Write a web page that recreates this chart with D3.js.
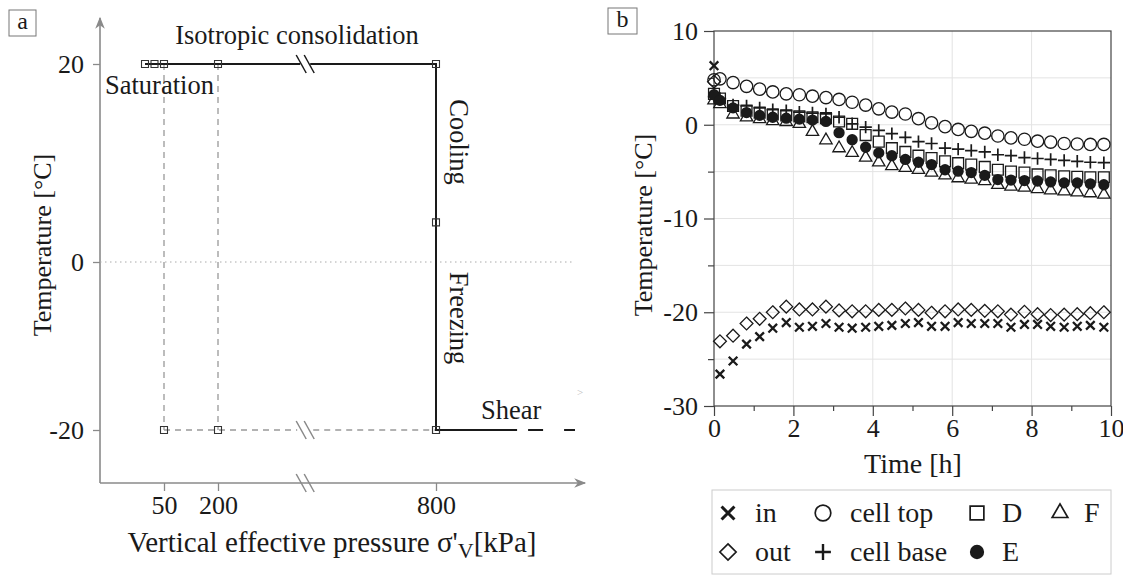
<!DOCTYPE html>
<html>
<head>
<meta charset="utf-8">
<script src="https://cdn.jsdelivr.net/npm/d3@7"></script>
<style>
  html, body { margin: 0; padding: 0; background: #fff; }
  svg { display: block; font-family: "Liberation Serif", "Times New Roman", serif; }
</style>
</head>
<body>
<svg id="chart" width="1123" height="575"></svg>
<script>
// ---- panel a: stress path (schematic) ----
const pressureTicks = [50, 200, 800]
const tempTicksA = [20, 0, -20]
const stepP = [20, 35, 50, 200, 800, 800, 800]   // marked steps on the path
const stepT = [20, 20, 20, 20, 20, 4, -20]
const refP = [50, 200, 800]                       // reference points at -20 C
const refT = [-20, -20, -20]
const breakP = 440                                // axis break between 200 and 800
const shearEndP = 975
const shearDashP = 1100

// ---- panel b: temperature vs time ----
const timeH = [0, 0.15, 0.48, 0.82, 1.15, 1.48, 1.82, 2.15, 2.48, 2.82, 3.15, 3.48, 3.82, 4.15, 4.48, 4.82,
  5.15, 5.48, 5.82, 6.15, 6.48, 6.82, 7.15, 7.48, 7.82, 8.15, 8.48, 8.82, 9.15, 9.48, 9.82]
const tIn = [6.3, -26.6, -25.2, -23.4, -22.6, -21.7, -21.1, -21.6, -21.5, -21.2, -21.6, -21.7, -21.6, -21.5, -21.4, -21.2,
  -21.1, -21.5, -21.5, -21.1, -21.2, -21.2, -21.2, -21.6, -21.3, -21.3, -21.5, -21.6, -21.5, -21.4, -21.6]
const tOut = [4.6, -23.1, -22.5, -21.2, -20.7, -20.0, -19.4, -19.7, -19.7, -19.4, -19.8, -19.9, -19.9, -19.75, -19.75, -19.6,
  -19.75, -20.05, -19.9, -19.7, -19.75, -19.85, -19.9, -20.25, -19.95, -20.2, -20.3, -20.25, -20.2, -20.1, -20.0]
const tCellTop = [4.8, 4.9, 4.5, 4.1, 3.8, 3.5, 3.3, 3.2, 3.05, 2.9, 2.7, 2.4, 2.1, 1.7, 1.35, 1.15,
  0.65, 0.2, -0.2, -0.5, -0.7, -0.9, -1.2, -1.4, -1.55, -1.75, -1.85, -2.0, -2.05, -2.1, -2.1]
const tCellBase = [3.0, 2.8, 2.1, 2.0, 1.8, 1.6, 1.5, 1.35, 1.25, 1.15, 0.8, 0.1, -0.25, -0.6, -0.95, -1.35,
  -1.8, -2.0, -2.5, -2.6, -2.75, -2.9, -3.2, -3.3, -3.5, -3.6, -3.7, -3.8, -3.9, -4.0, -4.05]
const tD = [3.3, 2.8, 2.0, 1.5, 1.3, 1.1, 1.0, 0.9, 0.8, 0.7, 0.35, 0.1, -1.1, -1.8, -2.5, -2.9,
  -3.3, -3.55, -3.9, -4.1, -4.25, -4.5, -4.8, -5.0, -5.1, -5.3, -5.4, -5.5, -5.55, -5.6, -5.6]
const tE = [3.2, 2.6, 1.8, 1.3, 1.0, 0.8, 0.7, 0.6, 0.5, 0.35, -0.85, -1.6, -2.4, -3.0, -3.3, -3.7,
  -4.0, -4.25, -4.8, -4.95, -5.1, -5.4, -5.85, -5.9, -5.95, -6.0, -6.1, -6.2, -6.2, -6.3, -6.4]
const tF = [2.6, 2.2, 1.1, 0.8, 0.6, 0.4, 0.3, 0.1, -0.75, -1.65, -2.5, -3.0, -3.5, -4.0, -4.4, -4.6,
  -4.8, -5.1, -5.4, -5.7, -5.85, -6.0, -6.4, -6.6, -6.7, -6.85, -7.0, -7.1, -7.2, -7.3, -7.45]
const timeTicks = [0, 2, 4, 6, 8, 10]
const timeMinor = [1, 3, 5, 7, 9]
const tempTicksB = [-30, -20, -10, 0, 10]
const tempMinorB = [-25, -15, -5, 5]

const series = [
  {name: 'out', values: tOut},
  {name: 'in', values: tIn},
  {name: 'cell top', values: tCellTop},
  {name: 'cell base', values: tCellBase},
  {name: 'D', values: tD},
  {name: 'F', values: tF},
  {name: 'E', values: tE},
]
// legend order, row by row
const legendRows = [['in', 'cell top', 'D', 'F'], ['out', 'cell base', 'E']]

const ink = '#1a1a1a'
const markerStyle = {
  'in':        {type: d3.symbolTimes || d3.symbolCross, size: 50, fill: 'none', sw: 2.3},
  'out':       {type: d3.symbolDiamond2 || d3.symbolDiamond, size: 105, fill: 'none', sw: 1.3},
  'cell top':  {type: d3.symbolCircle, size: 120, fill: 'none', sw: 1.3},
  'cell base': {type: d3.symbolPlus || d3.symbolCross, size: 52, fill: 'none', sw: 1.7},
  'D':         {type: d3.symbolSquare2 || d3.symbolSquare, size: 150, fill: 'none', sw: 1.3},
  'E':         {type: d3.symbolCircle, size: 100, fill: ink, sw: 0},
  'F':         {type: d3.symbolTriangle2 || d3.symbolTriangle, size: 110, fill: 'none', sw: 1.3},
}
const plain = d => String(d)   // hyphen minus, as in the original

const svg = d3.select('#chart')
const axisGray = '#8a8a8a'

// ================= panel a =================
const xa = d3.scaleLinear().domain([20, 50, 200, 800, 1100]).range([145, 164, 218, 436, 575])
const ya = d3.scaleLinear().domain([-20, 0, 20]).range([430, 262, 64])
const originX = 100, originY = 483

const pa = svg.append('g')

svg.append('defs').append('marker')
  .attr('id', 'arrow').attr('viewBox', '0 0 10 10').attr('refX', 9).attr('refY', 5)
  .attr('markerWidth', 14).attr('markerHeight', 12).attr('markerUnits', 'userSpaceOnUse')
  .attr('orient', 'auto')
  .append('path').attr('d', 'M0,1 L10,5 L0,9 L3,5 Z').attr('fill', axisGray)

// axis lines with arrows
pa.append('line').attr('x1', originX).attr('y1', originY).attr('x2', originX).attr('y2', 18)
  .attr('stroke', axisGray).attr('stroke-width', 1.6).attr('marker-end', 'url(#arrow)')
pa.append('line').attr('x1', originX).attr('y1', originY).attr('x2', 585).attr('y2', originY)
  .attr('stroke', axisGray).attr('stroke-width', 1.6).attr('marker-end', 'url(#arrow)')

const yAxisA = pa.append('g').attr('transform', `translate(${originX},0)`)
  .call(d3.axisLeft(ya).tickValues(tempTicksA).tickSize(7).tickPadding(9).tickFormat(plain))
yAxisA.select('.domain').remove()
yAxisA.selectAll('line').attr('stroke', axisGray).attr('stroke-width', 1.3)
yAxisA.selectAll('text').attr('font-size', 26).attr('fill', ink).attr('font-family', 'Liberation Serif')

const xAxisA = pa.append('g').attr('transform', `translate(0,${originY})`)
  .call(d3.axisBottom(xa).tickValues(pressureTicks).tickSize(8).tickPadding(5).tickFormat(plain))
xAxisA.select('.domain').remove()
xAxisA.selectAll('line').attr('stroke', axisGray).attr('stroke-width', 1.3)
xAxisA.selectAll('text').attr('font-size', 26).attr('fill', ink).attr('font-family', 'Liberation Serif')

// zero reference (dotted)
pa.append('line').attr('x1', originX).attr('x2', 575).attr('y1', ya(0)).attr('y2', ya(0))
  .attr('stroke', '#aaa').attr('stroke-width', 1).attr('stroke-dasharray', '1.5,3.5')

// grey dashed reference lines
const refDash = '6,5'
pressureTicks.slice(0, 2).forEach(p => {
  pa.append('line').attr('x1', xa(p)).attr('x2', xa(p)).attr('y1', ya(20)).attr('y2', ya(-20))
    .attr('stroke', '#999').attr('stroke-width', 1.3).attr('stroke-dasharray', refDash)
})
const gap = 8
pa.append('line').attr('x1', xa(50)).attr('x2', xa(breakP) - gap).attr('y1', ya(-20)).attr('y2', ya(-20))
  .attr('stroke', '#999').attr('stroke-width', 1.3).attr('stroke-dasharray', refDash)
pa.append('line').attr('x1', xa(breakP) + gap).attr('x2', xa(800)).attr('y1', ya(-20)).attr('y2', ya(-20))
  .attr('stroke', '#999').attr('stroke-width', 1.3).attr('stroke-dasharray', refDash)

// main stress path
const line = d3.line().x(d => xa(d[0])).y(d => ya(d[1]))
pa.append('path').datum([[stepP[0], 20], [breakP, 20]]).attr('d', line)
  .attr('fill', 'none').attr('stroke', ink).attr('stroke-width', 2)
pa.append('path').datum([[breakP, 20], [800, 20], [800, -20], [shearEndP, -20]]).attr('d', line)
  .attr('fill', 'none').attr('stroke', ink).attr('stroke-width', 2)
pa.append('path').datum([[shearEndP, -20], [shearDashP, -20]]).attr('d', line)
  .attr('fill', 'none').attr('stroke', ink).attr('stroke-width', 2).attr('stroke-dasharray', '0,11,15,10')

// break marks "//"
function breakMark(cx, cy, color) {
  [-4, 4].forEach(off => {
    pa.append('line').attr('x1', cx + off - 5).attr('y1', cy - 9).attr('x2', cx + off + 5).attr('y2', cy + 9)
      .attr('stroke', color).attr('stroke-width', 1.5)
  })
}
// white-out gap on the top line
pa.append('rect').attr('x', xa(breakP) - 5).attr('y', ya(20) - 3).attr('width', 10).attr('height', 6).attr('fill', '#fff')
breakMark(xa(breakP), ya(20), ink)
breakMark(xa(breakP), ya(-20), '#888')
breakMark(xa(breakP), originY, axisGray)

// step markers
const sqA = d3.symbol().type(d3.symbolSquare2 || d3.symbolSquare).size(62)
pa.selectAll('.step').data(stepP.map((p, i) => [p, stepT[i]]).concat(refP.map((p, i) => [p, refT[i]])))
  .join('path').attr('class', 'step')
  .attr('transform', d => `translate(${xa(d[0])},${ya(d[1])})`)
  .attr('d', sqA).attr('fill', 'none').attr('stroke', '#333').attr('stroke-width', 1.1)

// annotations
const ann = pa.append('g').attr('fill', ink).attr('font-size', 26.5)
ann.append('text').attr('x', 297).attr('y', 44).attr('text-anchor', 'middle').text('Isotropic consolidation')
ann.append('text').attr('x', 105).attr('y', 94).text('Saturation')
ann.append('text').attr('transform', 'translate(450,142) rotate(90)').attr('text-anchor', 'middle').text('Cooling')
ann.append('text').attr('transform', 'translate(450,318) rotate(90)').attr('text-anchor', 'middle').text('Freezing')
ann.append('text').attr('x', 481).attr('y', 419).text('Shear')
pa.append('text').attr('x', 577).attr('y', 396).attr('font-size', 11).attr('fill', '#bbb').text('>')

// axis titles
pa.append('text').attr('transform', 'translate(51,245) rotate(-90)').attr('text-anchor', 'middle')
  .attr('font-size', 26).attr('fill', ink).text('Temperature [°C]')
const xt = pa.append('text').attr('x', 332).attr('y', 552).attr('text-anchor', 'middle')
  .attr('font-size', 29).attr('fill', ink)
xt.append('tspan').text("Vertical effective pressure σ'")
xt.append('tspan').attr('font-size', 22).attr('dy', 6).text('V')
xt.append('tspan').attr('dy', -6).text('[kPa]')

// panel tag
function tag(x, y, w, h, s) {
  svg.append('rect').attr('x', x).attr('y', y).attr('width', w).attr('height', h)
    .attr('fill', '#fff').attr('stroke', '#777').attr('stroke-width', 1)
  svg.append('text').attr('x', x + w / 2).attr('y', y + h - 7).attr('text-anchor', 'middle')
    .attr('font-size', 24).attr('fill', ink).text(s)
}
tag(9, 10, 27, 26, 'a')
tag(608, 8, 29, 26, 'b')

// ================= panel b =================
const xb = d3.scaleLinear().domain([0, 10]).range([714, 1111])
const yb = d3.scaleLinear().domain([-30, 10]).range([406, 31])
const pb = svg.append('g')

// grid
pb.append('g').selectAll('line').data([2, 4, 6, 8]).join('line')
  .attr('x1', d => xb(d)).attr('x2', d => xb(d)).attr('y1', yb(-30)).attr('y2', yb(10))
  .attr('stroke', '#e3e3e3').attr('stroke-width', 1)
pb.append('g').selectAll('line').data(tempMinorB.concat([-20, -10, 0])).join('line')
  .attr('x1', xb(0)).attr('x2', xb(10)).attr('y1', d => yb(d)).attr('y2', d => yb(d))
  .attr('stroke', '#e3e3e3').attr('stroke-width', 1)

// frame
pb.append('rect').attr('x', xb(0)).attr('y', yb(10)).attr('width', xb(10) - xb(0)).attr('height', yb(-30) - yb(10))
  .attr('fill', 'none').attr('stroke', '#444').attr('stroke-width', 1.2)

function styleAxis(g) {
  g.select('.domain').remove()
  g.selectAll('line').attr('stroke', '#444').attr('stroke-width', 1.2)
  g.selectAll('text').attr('font-size', 26).attr('fill', ink).attr('font-family', 'Liberation Serif')
}
pb.append('g').attr('transform', `translate(${xb(0)},0)`)
  .call(d3.axisLeft(yb).tickValues(tempTicksB).tickSize(10).tickPadding(6).tickFormat(plain))
  .call(styleAxis)
pb.append('g').attr('transform', `translate(${xb(0)},0)`)
  .call(d3.axisLeft(yb).tickValues(tempMinorB).tickSize(6).tickFormat(''))
  .call(styleAxis)
pb.append('g').attr('transform', `translate(0,${yb(-30)})`)
  .call(d3.axisBottom(xb).tickValues(timeTicks).tickSize(10).tickPadding(3).tickFormat(plain))
  .call(styleAxis)
pb.append('g').attr('transform', `translate(0,${yb(-30)})`)
  .call(d3.axisBottom(xb).tickValues(timeMinor).tickSize(5).tickFormat(''))
  .call(styleAxis)

pb.append('text').attr('transform', 'translate(652,225) rotate(-90)').attr('text-anchor', 'middle')
  .attr('font-size', 26).attr('fill', ink).text('Temperature [°C]')
pb.append('text').attr('x', 913).attr('y', 473).attr('text-anchor', 'middle')
  .attr('font-size', 28).attr('fill', ink).text('Time [h]')

// markers
function symbolPath(name, scale) {
  const st = markerStyle[name]
  return d3.symbol().type(st.type).size(st.size * (scale || 1))()
}
series.forEach(s => {
  const st = markerStyle[s.name]
  pb.append('g').selectAll('path').data(s.values.map((v, i) => [timeH[i], v])).join('path')
    .attr('transform', d => `translate(${xb(d[0])},${yb(d[1])})`)
    .attr('d', symbolPath(s.name))
    .attr('fill', st.fill).attr('stroke', st.sw ? ink : 'none').attr('stroke-width', st.sw)
})

// legend
const lg = pb.append('g')
lg.append('rect').attr('x', 712).attr('y', 490).attr('width', 399).attr('height', 84)
  .attr('fill', '#fff').attr('stroke', '#ccc').attr('stroke-width', 1)
const colMarker = [728, 823, 977, 1060]
const rowY = [513, 552]
legendRows.forEach((row, r) => {
  row.forEach((name, c) => {
    const st = markerStyle[name]
    lg.append('path').attr('transform', `translate(${colMarker[c]},${rowY[r]})`)
      .attr('d', symbolPath(name, name === 'in' ? 2.2 : 1.6))
      .attr('fill', st.fill).attr('stroke', st.sw ? ink : 'none')
      .attr('stroke-width', name === 'in' ? 3 : name === 'cell base' ? 2.4 : st.sw * 1.3)
    lg.append('text').attr('x', colMarker[c] + (c === 3 ? 24 : c === 2 ? 25 : 27)).attr('y', rowY[r] + 9)
      .attr('font-size', 28).attr('fill', ink).text(name)
  })
})
</script>
</body>
</html>
